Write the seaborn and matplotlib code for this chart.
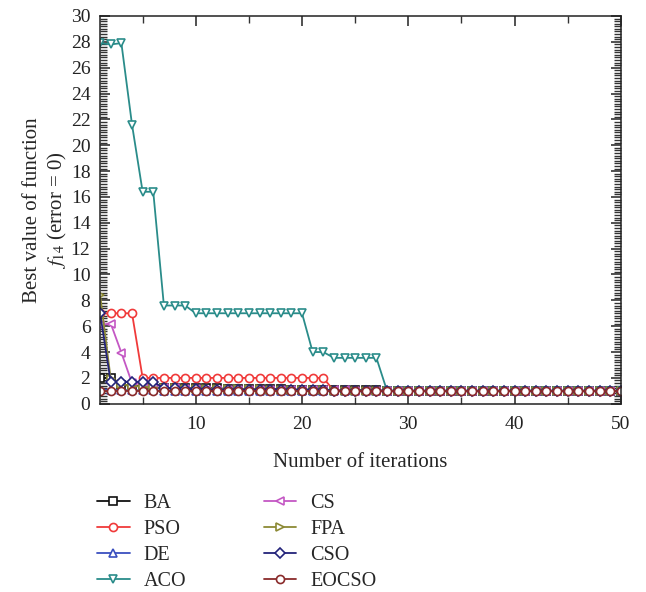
import numpy as np
import pandas as pd
import matplotlib
matplotlib.use("Agg")
import matplotlib.pyplot as plt
import seaborn as sns
from matplotlib.ticker import MultipleLocator

iterations = list(range(1, 51))

ba = [2.0, 2.0, 1.45, 1.4, 1.35, 1.3] + [1.2] * 6 + [1.15] * 6 + [1.1] * 4 + [1.05] * 5 + [1.0] * 23
pso = [7.0] * 4 + [2.0] * 18 + [1.0] * 28
de = [1.1, 1.08, 1.06, 1.05, 1.05, 1.04] + [1.02] * 10 + [1.0] * 34
aco = ([27.9, 27.8, 27.9, 21.6, 16.4, 16.4, 7.6, 7.6, 7.6] + [7.0] * 11
       + [4.0, 4.0] + [3.55] * 5 + [1.0] * 23)
cs = [6.1, 6.2, 3.95, 1.6, 1.5, 1.3, 1.2, 1.2, 1.15, 1.15] + [1.1] * 8 + [1.05] * 6 + [1.0] * 26
fpa = [8.4, 1.9, 1.5, 1.4, 1.3, 1.25, 1.2, 1.2] + [1.15] * 8 + [1.08] * 6 + [1.0] * 28
cso = [7.0, 1.65, 1.7, 1.7, 1.7, 1.7, 1.2, 1.2, 1.15, 1.15] + [1.1] * 8 + [1.05] * 4 + [1.0] * 28
eocso = [0.998] * 50

names = ["BA", "PSO", "DE", "ACO", "CS", "FPA", "CSO", "EOCSO"]
series = [ba, pso, de, aco, cs, fpa, cso, eocso]
colors = ["#111111", "#f03a3a", "#3a4fbf", "#2a8c8a", "#c457c4", "#8c8a35", "#23237a", "#8a2b2b"]
markers = ["s", "o", "^", "v", "<", ">", "D", "o"]

df = pd.DataFrame({
    "iteration": np.tile(iterations, len(names)),
    "value": np.concatenate(series),
    "algorithm": np.repeat(names, len(iterations)),
})

sns.set_style("ticks")
plt.rcParams["font.family"] = ["Liberation Serif", "DejaVu Serif"]
plt.rcParams["mathtext.fontset"] = "stix"

fig = plt.figure(figsize=(6.46, 5.92), dpi=100)
ax = fig.add_axes([0.155, 0.318, 0.806, 0.655])

for name, col, mk in zip(names, colors, markers):
    sub = df[df["algorithm"] == name]
    ms = 4.8 if mk == "D" else 5.8
    sns.lineplot(data=sub, x="iteration", y="value", ax=ax, color=col, lw=1.3,
                 marker=mk, markersize=ms, markerfacecolor="white",
                 markeredgecolor=col, markeredgewidth=1.2, label=name)

ax.set_xlim(1, 50)
ax.set_ylim(0, 30)
ax.xaxis.set_major_locator(MultipleLocator(10))
ax.xaxis.set_minor_locator(MultipleLocator(5))
ax.yaxis.set_major_locator(MultipleLocator(2))
ax.yaxis.set_minor_locator(MultipleLocator(0.2))
ax.tick_params(which="both", direction="in", top=True, right=True, labelsize=14,
               colors="#222222", bottom=True, left=True)
ax.tick_params(which="major", length=7, width=1.1)
ax.tick_params(which="minor", length=5, width=1.0, color="#333333")
ax.tick_params(axis="y", which="major", pad=7)
ax.tick_params(axis="x", which="major", pad=9)
for s in ax.spines.values():
    s.set_linewidth(1.1)
    s.set_color("#222222")

ax.set_xlabel("Number of iterations", fontsize=15, labelpad=14)
ax.set_ylabel("Best value of function\n$f_{14}$ (error = 0)", fontsize=15, labelpad=1,
              linespacing=1.25)

ax.legend(loc="upper left", bbox_to_anchor=(0.135, 0.182), bbox_transform=fig.transFigure,
          ncol=2, frameon=False, fontsize=14.5, handlelength=1.6, columnspacing=3.85,
          labelspacing=0.33, handletextpad=0.7, borderpad=0)

fig.savefig("out.png", dpi=100)
